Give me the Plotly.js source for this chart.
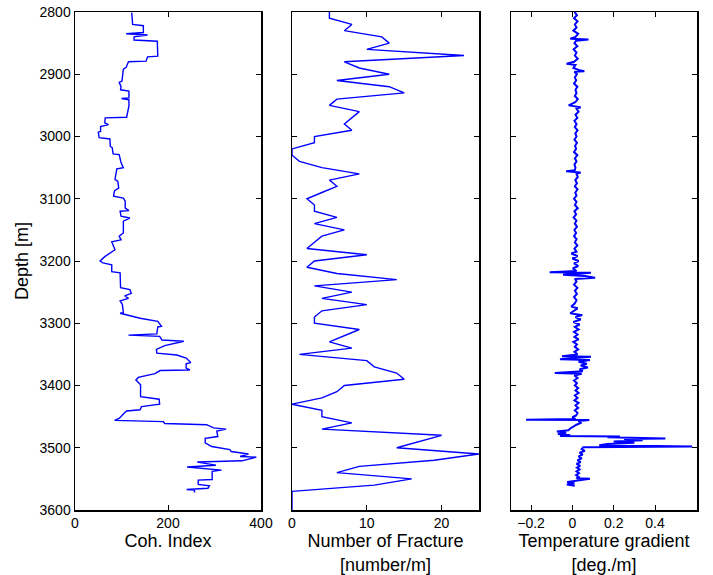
<!DOCTYPE html>
<html>
<head>
<meta charset="utf-8">
<script src="https://cdn.plot.ly/plotly-3.0.1.min.js"></script>
<style>html,body{margin:0;padding:0;background:#fff;}#chart{width:713px;height:575px;}</style>
</head>
<body>
<div id="chart"></div>
<script>
// Panel 1: Coh. Index vs depth
const cohDepth = [2801,2820,2822,2833,2835,2837,2840,2845,2847,2871,2872,2879,2880,2889,2892,2911,2913,2920,2925,2927,2938,2939,2941,2951,2969,2970,2978,2981,2984,2992,2993,3002,3004,3016,3018,3028,3029,3042,3050,3052,3069,3072,3083,3087,3096,3099,3104,3115,3119,3120,3128,3131,3136,3155,3160,3166,3169,3182,3193,3200,3203,3206,3217,3219,3243,3246,3252,3256,3260,3264,3270,3283,3284,3289,3292,3297,3305,3306,3317,3319,3321,3327,3329,3336,3342,3348,3351,3356,3363,3365,3372,3375,3376,3381,3387,3391,3396,3399,3418,3422,3430,3434,3439,3441,3445,3453,3456,3458,3461,3463,3468,3470,3473,3482,3485,3492,3498,3503,3506,3510,3514,3515,3521,3523,3528,3531,3536,3538,3551,3552,3559,3561,3565,3567,3568,3572];
const cohIndex = [122,124,147,147,110,156,127,127,177,178,156,153,115,110,104,101,95,99,98,116,116,100,116,116,111,65,64,72,55,55,50,52,75,76,80,82,95,99,104,90,86,92,94,85,83,104,108,108,116,97,99,118,104,104,95,99,79,86,64,54,60,79,79,97,98,118,121,107,115,97,102,104,97,121,140,178,186,178,176,115,182,187,234,193,175,176,219,239,249,239,239,247,183,172,136,131,136,141,141,181,182,143,140,111,105,95,85,190,193,283,298,325,305,307,280,280,294,333,336,373,355,390,359,263,303,241,315,295,295,265,265,289,286,240,257,257];

// Panel 2: Number of fracture vs depth
const fracDepth = [2800,2810,2820,2830,2840,2850,2860,2870,2880,2890,2900,2910,2920,2930,2940,2950,2960,2970,2980,2990,3000,3010,3020,3030,3040,3050,3060,3070,3080,3090,3100,3110,3120,3130,3140,3150,3160,3170,3180,3190,3200,3210,3220,3230,3240,3250,3260,3270,3280,3290,3300,3310,3320,3330,3340,3350,3360,3370,3380,3390,3400,3410,3420,3430,3440,3450,3460,3470,3480,3490,3500,3510,3520,3530,3540,3550,3560,3570,3600];
const fracCount = [5,5,8,7,12,13,10,23,7,9,13,6,13,15,6,5,9,8,7,8,3,3,0,0,1,4,9,5,6,4,2,3,3,6,3,7,4,3,2,10,3,2,6,14,3,8,4,10,4,3,3,9,7,5,8,1,10,11,14,15,7,6,4,0,4,4,8,4,20,17,14,25,19,9,6,16,11,0,0];

// Panel 3: Temperature gradient vs depth
const tempDepth = [2800,2805,2810,2815,2820,2825,2830,2835,2840,2843,2844,2846,2850,2855,2860,2865,2870,2875,2880,2883,2885,2890,2893,2895,2896,2900,2905,2910,2915,2920,2925,2930,2935,2940,2945,2950,2953,2955,2960,2965,2970,2975,2980,2985,2990,2995,3000,3005,3010,3015,3020,3025,3030,3035,3040,3045,3050,3054,3056,3058,3060,3065,3070,3075,3080,3085,3090,3095,3100,3105,3110,3115,3120,3125,3130,3135,3140,3145,3150,3155,3160,3165,3170,3175,3180,3185,3188,3192,3196,3200,3204,3208,3212,3216,3218,3219,3221,3222,3224,3227,3229,3233,3238,3243,3248,3253,3258,3263,3268,3273,3276,3280,3284,3287,3290,3294,3298,3302,3306,3310,3314,3318,3322,3326,3330,3334,3338,3342,3346,3350,3353,3354,3356,3358,3359,3362,3365,3368,3371,3374,3377,3380,3381,3384,3388,3392,3396,3400,3404,3408,3412,3416,3420,3424,3428,3432,3436,3440,3444,3448,3451,3454,3455,3455.5,3457,3460,3463,3466,3469,3472,3474,3476,3478,3480,3481,3482,3483,3485,3486,3488,3490,3492,3494,3496,3498,3499,3502,3505,3508,3511,3514,3517,3520,3523,3526,3529,3532,3535,3538,3541,3544,3547,3549,3550,3552,3555,3557,3559,3561];
const tempGrad = [0.010,0.022,0.008,0.025,0.012,0.020,0.005,0.028,0.015,-0.010,0.078,0.018,0.010,0.024,0.006,0.020,0.012,0.026,0.008,-0.028,0.015,0.005,0.030,0.058,0.010,0.022,0.012,0.018,0.008,0.024,0.015,0.020,0.012,0.026,0.014,-0.018,0.040,0.020,0.030,0.015,0.024,0.010,0.020,0.012,0.025,0.014,0.020,0.010,0.022,0.013,0.018,0.008,0.024,0.012,0.020,0.010,0.015,0.012,-0.030,0.040,0.020,0.026,0.014,0.022,0.012,0.025,0.014,0.020,0.008,0.020,0.012,0.026,0.010,0.018,0.006,0.020,0.012,0.022,0.010,0.018,0.008,0.020,0.012,0.024,0.010,0.020,-0.005,0.025,0.000,0.030,0.008,0.028,0.002,0.020,-0.110,0.090,0.010,-0.045,0.060,0.110,0.012,0.020,0.008,0.024,0.012,0.022,0.008,0.020,0.012,-0.005,0.025,0.010,-0.010,0.048,0.015,0.040,0.005,0.035,0.012,0.030,0.008,0.025,0.010,0.030,0.005,0.022,0.012,0.028,0.010,0.025,-0.050,0.090,0.010,-0.060,0.085,0.030,0.070,0.040,0.075,0.035,0.050,-0.085,0.045,0.010,0.025,0.008,0.022,0.012,0.028,0.015,0.030,0.012,0.025,0.010,0.030,0.015,0.028,0.012,0.025,0.018,0.000,0.015,-0.224,0.082,0.030,0.040,0.020,0.002,-0.010,-0.020,-0.075,-0.030,-0.070,-0.010,-0.060,0.230,0.170,0.450,0.250,0.340,0.200,0.300,0.170,0.130,0.580,0.053,0.045,0.060,0.035,0.050,0.030,0.045,0.025,0.040,0.020,0.038,0.022,0.035,0.020,0.032,0.018,0.030,0.020,0.085,0.030,-0.025,0.010,-0.027,0.012];

const depthTicks = [2800,2900,3000,3100,3200,3300,3400,3500,3600];
const cohTicks = [0,200,400];
const fracTicks = [0,10,20];
const tempTicks = [-0.2,0,0.2,0.4];
const tempTickText = ['\u22120.2','0','0.2','0.4'];

const lineStyle = {color:'#0000ff', width:1.4};
const traces = [
  {x:cohIndex, y:cohDepth, type:'scatter', mode:'lines', line:lineStyle, xaxis:'x', yaxis:'y', hoverinfo:'none'},
  {x:fracCount, y:fracDepth, type:'scatter', mode:'lines', line:lineStyle, xaxis:'x2', yaxis:'y2', hoverinfo:'none'},
  {x:tempGrad, y:tempDepth, type:'scatter', mode:'lines', line:{color:'#0000ff', width:2}, xaxis:'x3', yaxis:'y3', hoverinfo:'none'}
];

const tickFont = {family:'Liberation Sans, Arial, sans-serif', size:14, color:'#000'};
const titleFont = {family:'Liberation Sans, Arial, sans-serif', size:18, color:'#000'};
const axBase = {
  showline:true, linecolor:'#000', linewidth:1.5, mirror:'ticks',
  ticks:'inside', ticklen:5, tickwidth:1, tickcolor:'#000',
  showgrid:false, zeroline:false, tickfont:tickFont
};
function xa(domain, range, tv, tt, title){
  return Object.assign({}, axBase, {domain:domain, range:range, tickvals:tv, ticktext:tt, title:{text:title, font:titleFont, standoff:4}});
}
const W = 622;
const layout = {
  width:713, height:575,
  margin:{l:75, r:16, t:12, b:65},
  paper_bgcolor:'#fff', plot_bgcolor:'#fff',
  showlegend:false,
  xaxis: Object.assign(xa([0, 186/W], [0,400], cohTicks, cohTicks.map(String), 'Coh. Index'), {anchor:'y'}),
  xaxis2: Object.assign(xa([217/W, 404/W], [0,25], fracTicks, fracTicks.map(String), 'Number of Fracture<br>[number/m]'), {anchor:'y2'}),
  xaxis3: Object.assign(xa([436/W, 1], [-0.297,0.603], tempTicks, tempTickText, 'Temperature gradient<br>[deg./m]'), {anchor:'y3'}),
  yaxis: Object.assign({}, axBase, {range:[3600,2800], tickvals:depthTicks, anchor:'x', title:{text:'Depth [m]', font:titleFont, standoff:6}}),
  yaxis2: Object.assign({}, axBase, {range:[3600,2800], tickvals:depthTicks, anchor:'x2', showticklabels:false}),
  yaxis3: Object.assign({}, axBase, {range:[3600,2800], tickvals:depthTicks, anchor:'x3', showticklabels:false})
};
Plotly.newPlot('chart', traces, layout, {staticPlot:true, displayModeBar:false});
</script>
</body>
</html>
